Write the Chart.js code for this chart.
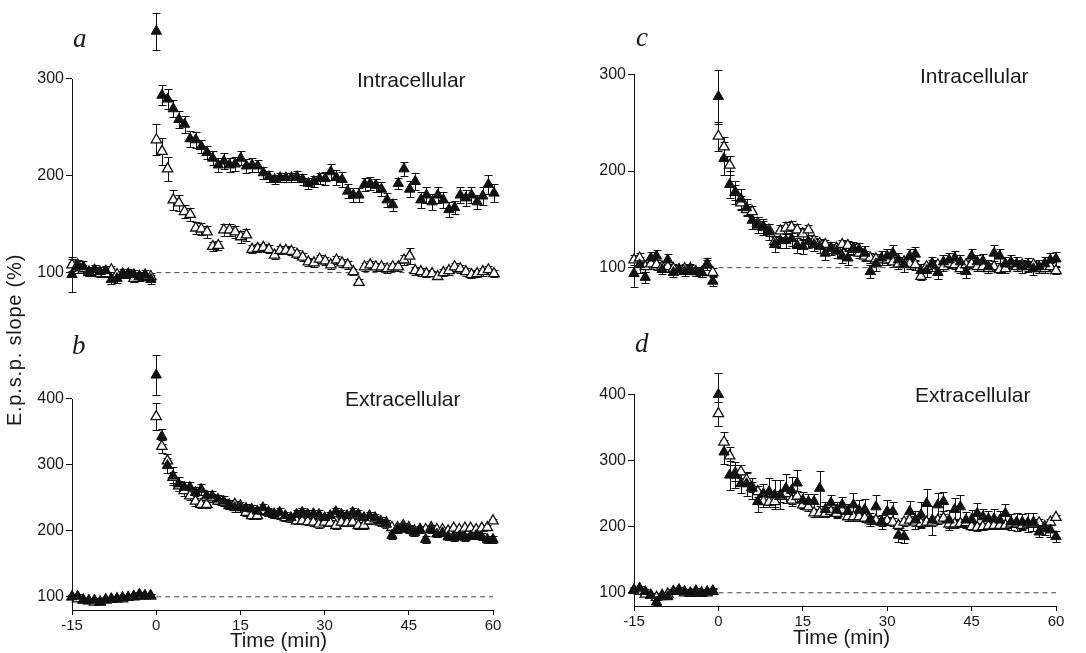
<!DOCTYPE html>
<html>
<head>
<meta charset="utf-8">
<script src="https://cdn.jsdelivr.net/npm/chart.js@4.4.0/dist/chart.umd.min.js"></script>
<style>
  html, body { margin: 0; padding: 0; background: #fff; }
  #wrap { position: relative; width: 1086px; height: 653px; overflow: hidden; background: #fff; }
  canvas { position: absolute; }
  .lbl { position: absolute; font-family: "Liberation Sans", Arial, sans-serif; color: #1a1a1a; line-height: 1; white-space: nowrap; }
  .let { position: absolute; font-family: "Liberation Serif", "Times New Roman", serif; font-style: italic; font-size: 27px; line-height: 1; color: #1a1a1a; }
</style>
</head>
<body>
<div id="wrap">
  <canvas id="ca" width="543" height="320" style="left:0;top:0"></canvas>
  <canvas id="cb" width="543" height="333" style="left:0;top:320px"></canvas>
  <canvas id="cc" width="543" height="320" style="left:543px;top:0"></canvas>
  <canvas id="cd" width="543" height="333" style="left:543px;top:320px"></canvas>

  <div class="let" style="left:73px;top:25px">a</div>
  <div class="let" style="left:72px;top:332px">b</div>
  <div class="let" style="left:636px;top:24px">c</div>
  <div class="let" style="left:635px;top:330px">d</div>

  <div class="lbl" style="left:357px;top:69px;font-size:21px">Intracellular</div>
  <div class="lbl" style="left:920px;top:65px;font-size:21px">Intracellular</div>
  <div class="lbl" style="left:345px;top:388px;font-size:21px">Extracellular</div>
  <div class="lbl" style="left:915px;top:384px;font-size:21px">Extracellular</div>

  <div class="lbl" style="left:230px;top:630px;font-size:20.5px">Time (min)</div>
  <div class="lbl" style="left:793px;top:627px;font-size:20.5px">Time (min)</div>

  <div class="lbl" style="left:-86px;top:330px;width:200px;height:20px;text-align:center;font-size:20px;letter-spacing:0.8px;transform:rotate(-90deg);transform-origin:center center;">E.p.s.p. slope (%)</div>
</div>
<script>
// ---------- DATA ----------
const minutes = [-15,-14,-13,-12,-11,-10,-9,-8,-7,-6,-5,-4,-3,-2,-1,
  0,1,2,3,4,5,6,7,8,9,10,11,12,13,14,15,16,17,18,19,20,21,22,23,24,25,26,27,28,29,30,
  31,32,33,34,35,36,37,38,39,40,41,42,43,44,45,46,47,48,49,50,51,52,53,54,55,56,57,58,59,60];

const xTicks = [-15, 0, 15, 30, 45, 60];
const yTicksIntra = [100, 200, 300];
const yTicksExtra = [100, 200, 300, 400];
const baseX = [0, 60];
const baseY = 100;

// Panel a (Intracellular)
const aFilled = [98,106,106,101,103,101,102,93,94,99,99,98,96,98,93,
  349,283,279,269,258,253,238,237,230,224,218,211,215,211,212,218,210,211,210,203,199,196,198,198,198,199,196,192,194,197,197,
  204,198,196,184,180,180,191,192,190,186,175,170,192,207,186,194,175,180,173,180,175,165,167,180,177,180,173,179,191,182];
const aFilledErr = [18,6,6,5,5,5,5,5,5,5,5,5,5,5,5,
  19,10,10,9,9,9,8,8,7,7,7,7,8,7,7,7,7,7,6,6,6,5,5,5,5,6,6,6,6,6,7,
  8,8,8,7,7,7,7,7,7,7,7,6,6,7,8,9,8,8,8,8,8,8,7,8,8,8,7,9,10,9];
const aOpen = [108,108,104,100,101,99,99,103,98,98,98,94,96,96,96,
  237,225,207,175,172,163,160,146,145,142,127,128,144,144,142,137,139,124,125,126,124,118,123,123,122,119,116,111,110,114,112,
  108,113,110,108,101,90,106,108,106,106,104,106,106,113,117,102,101,99,99,96,100,102,106,104,101,98,99,101,103,99];
const aOpenErr = [6,5,4,4,4,4,4,4,4,4,4,4,4,4,4,
  16,14,12,10,8,7,7,6,6,6,5,5,6,6,6,6,6,4,4,4,4,4,4,4,4,4,4,4,4,4,4,
  4,4,4,4,3,3,4,4,4,4,4,4,4,5,8,4,4,4,3,3,4,4,4,4,4,4,4,4,4,4];

// Panel b (Extracellular)
const bFilled = [100,101,95,94,95,92,96,97,97,99,99,101,104,102,102,
  436,343,299,283,271,266,266,258,263,253,253,248,245,240,235,235,234,233,230,235,228,225,228,223,220,225,228,225,226,225,220,
  223,229,225,223,228,225,220,223,220,215,210,193,202,205,202,197,202,187,202,195,197,191,190,192,190,192,193,191,187,187];
const bFilledErr = [3,3,3,3,3,3,3,3,3,3,3,3,3,3,3,
  30,12,12,14,10,8,8,8,8,7,7,7,7,7,6,6,6,6,6,6,6,6,6,6,6,6,6,6,6,6,6,
  6,6,6,6,6,6,6,6,6,6,6,5,5,5,5,5,5,5,5,5,5,5,5,5,5,5,5,5,5,5];
const bOpen = [100,97,95,94,92,92,95,96,97,97,99,100,101,101,101,
  373,328,306,281,268,261,253,245,240,240,250,245,243,238,240,238,228,223,223,230,228,225,223,220,218,215,215,214,213,210,213,
  212,208,213,212,213,208,208,215,218,213,212,205,205,208,205,200,202,202,205,202,202,200,204,202,204,204,202,204,205,215];
const bOpenErr = [3,3,3,3,3,3,3,3,3,3,3,3,3,3,3,
  20,10,10,8,8,8,7,7,6,6,6,5,5,5,5,5,5,5,5,5,5,5,5,5,5,5,5,5,5,5,5,
  5,5,5,5,5,5,5,5,5,5,5,4,4,4,4,4,4,4,4,4,4,4,4,4,4,4,4,4,4,3];

// Panel c (Intracellular)
const cFilled = [94,103,90,110,112,98,108,95,98,96,98,96,95,104,86,
  277,213,186,178,171,162,149,144,142,137,124,128,128,130,123,122,127,124,122,115,120,117,112,110,120,119,115,96,104,110,112,
  115,108,103,112,114,97,97,104,95,106,108,110,106,96,112,106,107,101,115,112,104,106,104,101,103,99,101,104,108,109];
const cFilledErr = [14,8,6,6,6,5,6,5,5,5,5,5,5,6,5,
  28,17,14,12,10,9,9,8,8,8,8,8,8,8,8,8,7,7,7,7,7,7,7,7,7,7,7,7,7,7,7,
  8,7,7,7,7,7,7,7,7,7,7,7,7,7,7,7,7,7,8,7,7,7,7,7,7,7,7,7,7,7];
const cOpen = [108,110,101,104,103,101,101,99,98,99,99,96,95,103,95,
  236,225,206,178,167,160,158,146,142,139,127,138,141,142,139,135,139,128,125,124,120,120,124,123,119,115,112,110,109,108,108,
  106,104,106,104,103,91,101,104,103,101,104,103,99,103,104,101,101,99,101,98,99,104,101,103,101,103,99,99,101,97];
const cOpenErr = [5,5,5,5,5,5,5,5,5,5,5,5,5,5,5,
  15,10,10,8,7,6,6,6,6,6,6,6,6,6,6,6,5,5,5,5,5,5,5,5,5,5,5,5,5,5,5,
  5,5,5,5,5,4,4,4,4,4,4,4,4,4,4,4,4,4,4,4,4,4,4,4,4,4,4,4,4,4];

// Panel d (Extracellular)
const dFilled = [104,107,102,96,86,94,94,102,105,102,100,103,99,102,103,
  400,313,278,278,265,265,258,238,250,253,248,248,258,255,266,240,238,238,258,226,236,225,233,223,233,225,226,211,230,207,223,
  223,187,185,223,210,218,235,210,233,238,210,226,230,210,211,220,215,212,212,210,220,207,207,207,206,207,192,197,195,185];
const dFilledErr = [4,4,4,4,4,4,4,4,4,4,4,4,4,4,4,
  33,18,22,20,14,18,16,16,14,20,22,22,22,20,20,12,12,12,26,12,12,12,12,12,18,16,16,10,18,10,18,
  14,10,10,16,14,20,22,22,18,15,15,18,18,12,14,16,12,12,14,14,14,12,14,12,14,14,8,10,10,8];
const dOpen = [104,102,98,96,93,96,98,102,103,100,99,102,100,100,102,
  371,328,307,281,283,271,260,253,238,237,238,246,250,240,246,233,230,221,221,220,223,220,225,215,215,215,213,210,210,207,209,
  207,202,207,210,207,205,207,207,210,213,204,204,205,206,200,199,200,201,202,202,202,204,204,202,204,204,206,200,207,214];
const dOpenErr = [3,3,3,3,3,3,3,3,3,3,3,3,3,3,3,
  18,15,14,12,10,10,8,8,8,8,8,8,8,8,8,7,7,6,6,6,6,6,6,6,6,6,6,6,6,6,6,
  6,6,6,6,6,6,6,6,6,6,6,6,6,6,5,5,5,5,5,5,5,5,5,5,5,5,5,5,5,3];

// ---------- CHART SETUP ----------
Chart.defaults.font.family = '"Liberation Sans", Arial, sans-serif';
Chart.defaults.font.size = 16;
Chart.defaults.color = '#1a1a1a';

const errorBars = {
  id: 'errorBars',
  beforeDatasetsDraw(chart) {
    const { ctx } = chart;
    const xs = chart.scales.x, ys = chart.scales.y;
    ctx.save();
    ctx.strokeStyle = '#111';
    ctx.lineWidth = 1;
    chart.data.datasets.forEach(ds => {
      if (!ds.errors) return;
      ds.data.forEach((p, j) => {
        const e = ds.errors[j];
        if (!e) return;
        const px = Math.round(xs.getPixelForValue(p.x)) + 0.5;
        const yt = Math.round(ys.getPixelForValue(p.y + e)) + 0.5;
        const yb = Math.round(ys.getPixelForValue(p.y - e)) + 0.5;
        ctx.beginPath();
        ctx.moveTo(px, yt); ctx.lineTo(px, yb);
        ctx.moveTo(px - 4, yt); ctx.lineTo(px + 4, yt);
        ctx.moveTo(px - 4, yb); ctx.lineTo(px + 4, yb);
        ctx.stroke();
      });
    });
    ctx.restore();
  }
};

// y axis line drawn only from the axis minimum up to the top tick
const axisLine = {
  id: 'axisLine',
  beforeDatasetsDraw(chart, args, opts) {
    const { ctx } = chart;
    const ys = chart.scales.y;
    const x = Math.round(chart.chartArea.left) + 0.5;
    ctx.save();
    ctx.strokeStyle = '#111';
    ctx.lineWidth = 1;
    ctx.beginPath();
    ctx.moveTo(x, ys.getPixelForValue(ys.min));
    ctx.lineTo(x, Math.round(ys.getPixelForValue(opts.top)));
    ctx.stroke();
    ctx.restore();
  }
};

function pts(vals) { return minutes.map((m, i) => ({ x: m, y: vals[i] })); }

function makePanel(id, filled, filledErr, open, openErr, o) {
  new Chart(document.getElementById(id), {
    type: 'scatter',
    data: {
      datasets: [
        { data: pts(filled), errors: filledErr, pointStyle: 'triangle', pointRadius: 6,
          backgroundColor: '#111', borderColor: '#111', borderWidth: 1, clip: false },
        { data: pts(open), errors: openErr, pointStyle: 'triangle', pointRadius: 6,
          backgroundColor: '#fff', borderColor: '#111', borderWidth: 1.3, clip: false },
        { data: baseX.map(x => ({ x: x, y: baseY })), showLine: true, pointRadius: 0,
          borderColor: '#444', borderWidth: 1, borderDash: [5, 4], clip: false }
      ]
    },
    options: {
      responsive: false,
      animation: false,
      devicePixelRatio: 1,
      layout: { padding: o.padding, autoPadding: false },
      plugins: { legend: { display: false }, tooltip: { enabled: false }, axisLine: { top: o.axisTop } },
      events: [],
      scales: {
        x: {
          type: 'linear', min: -15, max: 60,
          display: o.showX,
          afterBuildTicks: s => { s.ticks = xTicks.map(v => ({ value: v })); },
          afterFit: s => { if (o.showX) s.height = 30; s.paddingLeft = 0; s.paddingRight = 0; },
          grid: { drawOnChartArea: false, drawTicks: true, tickLength: 5, color: '#111' },
          border: { display: true, color: '#111', width: 1 },
          ticks: { padding: 2, font: { size: 15 }, color: '#1a1a1a', maxRotation: 0 }
        },
        y: {
          type: 'linear', min: o.yMin, max: o.yMax,
          afterBuildTicks: s => { s.ticks = o.yTicks.map(v => ({ value: v })); },
          afterFit: s => { s.width = o.yWidth; s.paddingTop = 0; s.paddingBottom = 0; },
          grid: { drawOnChartArea: false, drawTicks: true, tickLength: 6, color: '#111' },
          border: { display: false },
          ticks: { padding: 2, font: { size: 16 }, color: '#1a1a1a' }
        }
      }
    },
    plugins: [axisLine, errorBars]
  });
}

makePanel('ca', aFilled, aFilledErr, aOpen, aOpenErr,
  { yMin: 80, yMax: 375, axisTop: 300, yTicks: yTicksIntra, showX: false, yWidth: 72,
    padding: { left: 0, right: 49, top: 6, bottom: 28 } });
makePanel('cb', bFilled, bFilledErr, bOpen, bOpenErr,
  { yMin: 80, yMax: 480, axisTop: 400, yTicks: yTicksExtra, showX: true, yWidth: 72,
    padding: { left: 0, right: 50, top: 26, bottom: 13 } });
makePanel('cc', cFilled, cFilledErr, cOpen, cOpenErr,
  { yMin: 80, yMax: 320, axisTop: 300, yTicks: yTicksIntra, showX: false, yWidth: 91,
    padding: { left: 0, right: 30, top: 55, bottom: 33 } });
makePanel('cd', dFilled, dFilledErr, dOpen, dOpenErr,
  { yMin: 80, yMax: 440, axisTop: 400, yTicks: yTicksExtra, showX: true, yWidth: 91,
    padding: { left: 0, right: 30, top: 48, bottom: 17 } });
</script>
</body>
</html>
